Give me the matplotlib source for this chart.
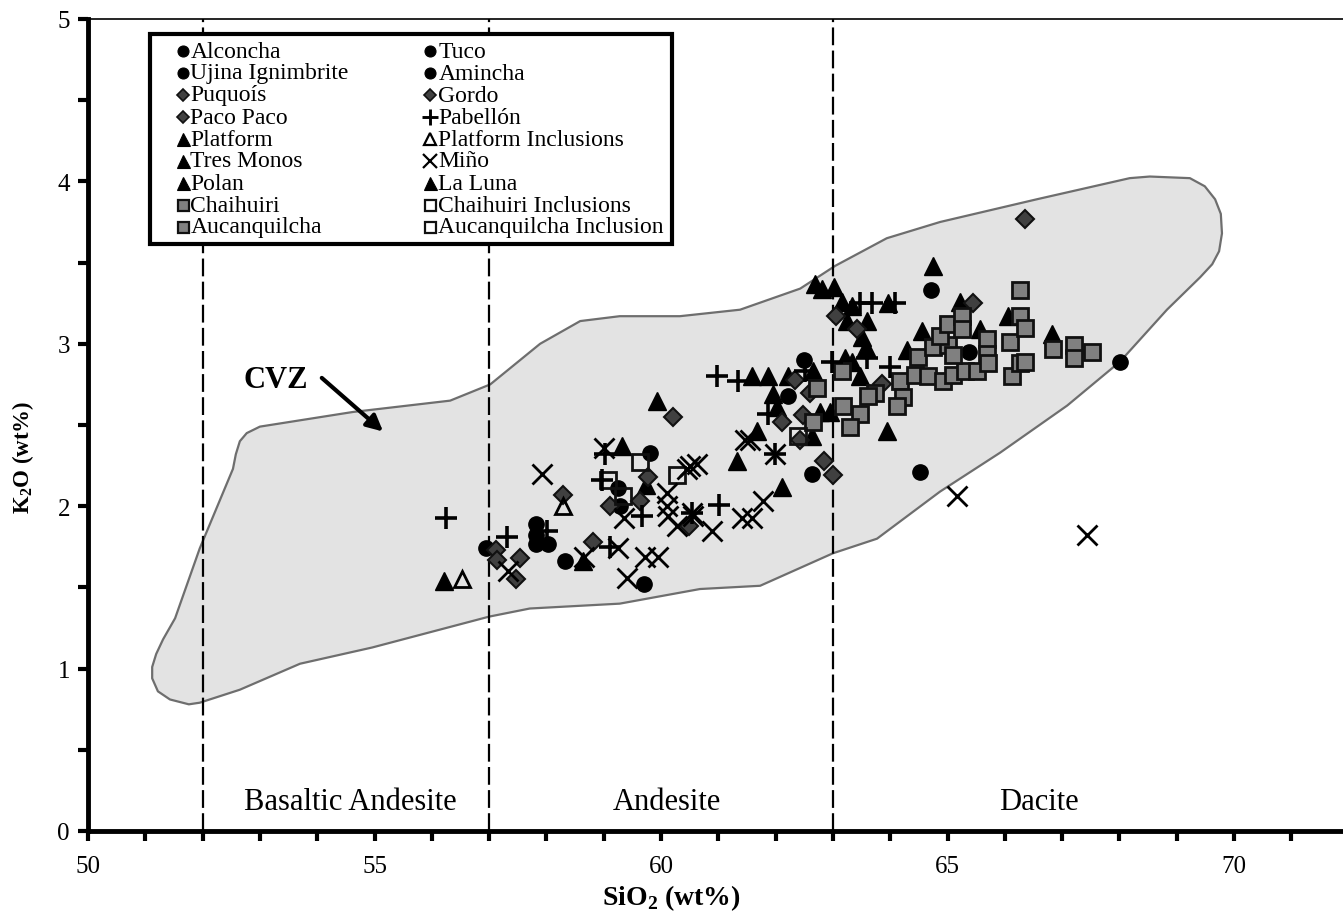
import matplotlib
matplotlib.use("Agg")
import matplotlib.pyplot as plt
from matplotlib.ticker import MultipleLocator
from matplotlib.patches import Rectangle

plt.rcParams['font.family'] = ['Liberation Serif', 'DejaVu Serif']
plt.rcParams['mathtext.fontset'] = 'custom'
plt.rcParams['mathtext.rm'] = 'Liberation Serif'
plt.rcParams['mathtext.bf'] = 'Liberation Serif:bold'

# CVZ field outline (SiO2, K2O)
cvz_x = [52.77, 53.00, 54.62, 56.32, 57.02, 57.89, 58.59, 59.28, 60.33, 61.38, 62.43, 63.04,
         63.94, 64.87, 66.56, 68.18, 68.53, 69.23, 69.49, 69.67, 69.77, 69.79, 69.74, 69.62,
         69.41, 68.83, 68.01, 67.09, 65.92, 64.87, 63.77, 63.00, 61.73, 60.68, 59.28, 57.71,
         57.00, 54.96, 53.70, 52.65, 51.95, 51.76, 51.43, 51.22, 51.12, 51.12, 51.19, 51.31,
         51.52, 51.95, 52.53, 52.58, 52.65]
cvz_y = [2.45, 2.49, 2.58, 2.65, 2.75, 3.00, 3.14, 3.17, 3.17, 3.21, 3.34, 3.48,
         3.65, 3.75, 3.89, 4.02, 4.03, 4.02, 3.97, 3.89, 3.80, 3.68, 3.57, 3.49,
         3.41, 3.21, 2.89, 2.62, 2.33, 2.09, 1.80, 1.71, 1.51, 1.49, 1.40, 1.37,
         1.32, 1.13, 1.03, 0.87, 0.79, 0.78, 0.81, 0.86, 0.94, 1.01, 1.09, 1.18,
         1.31, 1.74, 2.23, 2.32, 2.40]

# filled circles: Alconcha, Ujina Ignimbrite, Tuco, Amincha
circ_x = [56.95, 57.82, 57.82, 57.82, 58.03, 58.32, 59.81, 59.25, 59.28, 59.70,
          62.50, 62.64, 64.52, 62.22, 64.71, 65.38, 68.01]
circ_y = [1.74, 1.89, 1.82, 1.77, 1.77, 1.66, 2.33, 2.11, 2.00, 1.52,
          2.90, 2.20, 2.21, 2.68, 3.33, 2.95, 2.89]

# diamonds: Puquoís, Gordo, Paco Paco
dia_x = [57.12, 57.14, 57.54, 57.47, 58.81, 58.29, 60.21, 59.11, 59.63, 59.77, 60.49,
         62.34, 62.60, 62.11, 62.48, 62.84, 63.00, 63.05, 63.42, 65.45, 66.35, 63.86, 62.43]
dia_y = [1.73, 1.67, 1.68, 1.55, 1.78, 2.07, 2.55, 2.00, 2.03, 2.18, 1.88,
         2.78, 2.70, 2.52, 2.56, 2.28, 2.19, 3.17, 3.09, 3.25, 3.77, 2.75, 2.41]

# Pabellón
pab_x = [56.25, 57.31, 58.01, 59.02, 58.97, 59.11, 59.67, 60.98, 61.34, 61.87, 61.99,
         61.01, 60.54, 62.98, 63.60, 64.00, 63.47, 63.68, 64.08, 62.51]
pab_y = [1.93, 1.81, 1.85, 2.32, 2.16, 1.75, 1.94, 2.80, 2.77, 2.57, 2.32,
         2.01, 1.96, 2.89, 2.91, 2.86, 3.25, 3.25, 3.25, 2.83]

# filled triangles: Platform, Tres Monos, Polan, La Luna
tri_x = [56.21, 58.64, 59.32, 59.93, 59.74, 61.33, 61.59, 61.87, 62.22, 61.95, 62.02,
         61.68, 62.11, 62.65, 62.64, 62.77, 62.95, 63.21, 63.33, 63.47, 62.69, 62.81,
         63.02, 63.16, 63.33, 63.25, 63.60, 63.51, 63.58, 63.96, 64.75, 64.56, 64.29,
         65.22, 65.57, 66.06, 66.82, 63.94]
tri_y = [1.54, 1.66, 2.37, 2.65, 2.13, 2.28, 2.80, 2.80, 2.80, 2.69, 2.61,
         2.46, 2.12, 2.83, 2.43, 2.58, 2.58, 2.91, 2.89, 2.80, 3.37, 3.34,
         3.35, 3.26, 3.23, 3.14, 3.14, 3.04, 2.98, 3.25, 3.48, 3.08, 2.96,
         3.26, 3.09, 3.17, 3.06, 2.46]

# Platform Inclusions
tri_inc_x = [56.53, 58.29]
tri_inc_y = [1.55, 2.00]

# Miño
mino_x = [57.92, 59.01, 59.35, 58.66, 57.33, 59.41, 59.25, 59.72, 59.95, 60.10, 60.10,
          60.12, 60.51, 60.63, 60.28, 60.89, 60.56, 61.41, 61.59, 61.47, 61.55, 61.78,
          61.99, 60.54, 65.17, 67.43, 60.45]
mino_y = [2.20, 2.36, 1.93, 1.69, 1.60, 1.56, 1.74, 1.69, 1.69, 2.08, 2.00,
          1.94, 2.25, 2.26, 1.88, 1.85, 1.94, 1.93, 1.93, 2.41, 2.41, 2.03,
          2.32, 1.96, 2.06, 1.82, 2.23]

# gray squares: Chaihuiri, Aucanquilcha
sq_x = [63.16, 62.72, 63.18, 63.47, 63.30, 62.65, 63.73, 63.61, 64.17, 64.22, 64.12,
        64.43, 64.66, 64.92, 65.10, 65.31, 65.51, 64.49, 64.75, 65.01, 65.10, 64.87,
        65.01, 65.25, 65.25, 65.69, 65.69, 65.71, 66.09, 66.13, 66.27, 66.35, 66.27,
        66.35, 66.27, 66.84, 67.21, 67.21, 67.52]
sq_y = [2.83, 2.73, 2.62, 2.57, 2.49, 2.52, 2.70, 2.68, 2.77, 2.67, 2.62,
        2.81, 2.80, 2.77, 2.81, 2.83, 2.83, 2.92, 2.98, 2.99, 2.93, 3.05,
        3.12, 3.17, 3.09, 3.03, 2.94, 2.88, 3.01, 2.80, 2.88, 2.89, 3.17,
        3.10, 3.33, 2.97, 2.99, 2.91, 2.95]

# open squares: Chaihuiri Inclusions, Aucanquilcha Inclusion
sq_inc_x = [59.63, 59.08, 59.34, 60.28, 62.39]
sq_inc_y = [2.27, 2.16, 2.06, 2.19, 2.43]

field_names = ['Basaltic Andesite', 'Andesite', 'Dacite']
field_label_x = [54.57, 60.1, 66.6]
field_bounds = [52, 57, 63]

legend_col1 = [('circle', 'Alconcha'), ('circle', 'Ujina Ignimbrite'), ('diamond', 'Puquoís'),
               ('diamond', 'Paco Paco'), ('tri', 'Platform'), ('tri', 'Tres Monos'),
               ('tri', 'Polan'), ('square', 'Chaihuiri'), ('square', 'Aucanquilcha')]
legend_col2 = [('circle', 'Tuco'), ('circle', 'Amincha'), ('diamond', 'Gordo'),
               ('plus', 'Pabellón'), ('tri_open', 'Platform Inclusions'), ('cross', 'Miño'),
               ('tri', 'La Luna'), ('square_open', 'Chaihuiri Inclusions'),
               ('square_open', 'Aucanquilcha Inclusion')]

styles = {
    'circle': dict(marker='o', ms=11, mfc='black', mec='black', mew=1),
    'diamond': dict(marker='D', ms=9, mfc='#404040', mec='#111111', mew=1.5),
    'plus': dict(marker='+', ms=16, mfc='black', mec='black', mew=2.6),
    'tri': dict(marker='^', ms=13, mfc='black', mec='black', mew=1),
    'tri_open': dict(marker='^', ms=12, mfc='none', mec='black', mew=2),
    'cross': dict(marker='x', ms=14, mfc='black', mec='black', mew=2),
    'square': dict(marker='s', ms=11, mfc='#808080', mec='#111111', mew=2),
    'square_open': dict(marker='s', ms=11, mfc='none', mec='#111111', mew=2),
}

fig = plt.figure(figsize=(13.43, 9.12), dpi=100)
ax = fig.add_axes([88 / 1343, 80 / 912, 1260.6 / 1343, 812 / 912])

ax.fill(cvz_x, cvz_y, facecolor='#e3e3e3', edgecolor='#6e6e6e', lw=1.6,
        joinstyle='round', zorder=1)

for b in field_bounds:
    ax.plot([b, b], [0, 5], color='black', lw=1.6, ls=(0, (8, 2.4)), zorder=2)

groups = [(tri_x, tri_y, 'tri'), (circ_x, circ_y, 'circle'), (dia_x, dia_y, 'diamond'),
          (sq_x, sq_y, 'square'), (sq_inc_x, sq_inc_y, 'square_open'),
          (tri_inc_x, tri_inc_y, 'tri_open'), (mino_x, mino_y, 'cross'),
          (pab_x, pab_y, 'plus')]
for i, (gx, gy, kind) in enumerate(groups):
    ax.plot(gx, gy, ls='none', zorder=3 + i, **styles[kind])

for name, lx in zip(field_names, field_label_x):
    ax.text(lx, 0.18, name, ha='center', va='center', fontsize=22)

ax.text(53.28, 2.78, 'CVZ', ha='center', va='center', fontsize=22, fontweight='bold')
ax.annotate('', xy=(55.15, 2.46), xytext=(54.08, 2.79),
            arrowprops=dict(arrowstyle='-|>', lw=3, color='black', mutation_scale=24,
                            shrinkA=0, shrinkB=0))

# legend box drawn by hand to get the tight row spacing
tr = ax.transAxes
ax.add_patch(Rectangle((0.0492, 0.7229), 0.4141, 0.2586, transform=tr,
                       facecolor='white', edgecolor='black', lw=3, zorder=20))
for col, mx, tx in [(legend_col1, 0.0754, 0.0812), (legend_col2, 0.2713, 0.2779)]:
    for r, (kind, label) in enumerate(col):
        fy = (832 - (52 + 22 * r)) / 812
        st = dict(styles[kind])
        st['ms'] = st['ms'] * 0.72
        st['mew'] = st['mew'] * 0.8
        ax.plot([mx], [fy], transform=tr, ls='none', zorder=21, clip_on=False, **st)
        ax.text(tx, fy, label, transform=tr, ha='left', va='center', fontsize=17, zorder=22)

ax.set_xlim(50, 72)
ax.set_ylim(0, 5)
ax.xaxis.set_major_locator(MultipleLocator(5))
ax.xaxis.set_minor_locator(MultipleLocator(1))
ax.yaxis.set_major_locator(MultipleLocator(1))
ax.yaxis.set_minor_locator(MultipleLocator(0.5))
ax.tick_params(which='both', direction='out', width=3, length=7, labelsize=18)
ax.tick_params(axis='x', pad=10)
ax.tick_params(axis='y', pad=6)
ax.tick_params(top=False, right=False)
ax.spines['left'].set_linewidth(3.5)
ax.spines['bottom'].set_linewidth(3.5)
ax.spines['top'].set_linewidth(1.2)
ax.spines['right'].set_visible(False)

ax.set_xlabel(r'SiO$_\mathbf{2}$ (wt%)', fontsize=20, fontweight='bold')
ax.set_ylabel(r'K$_\mathbf{2}$O (wt%)', fontsize=16.5, fontweight='bold')
ax.xaxis.set_label_coords(0.4625, -0.063)
ax.yaxis.set_label_coords(-0.041, 0.462)

fig.savefig('out.png', dpi=100)
